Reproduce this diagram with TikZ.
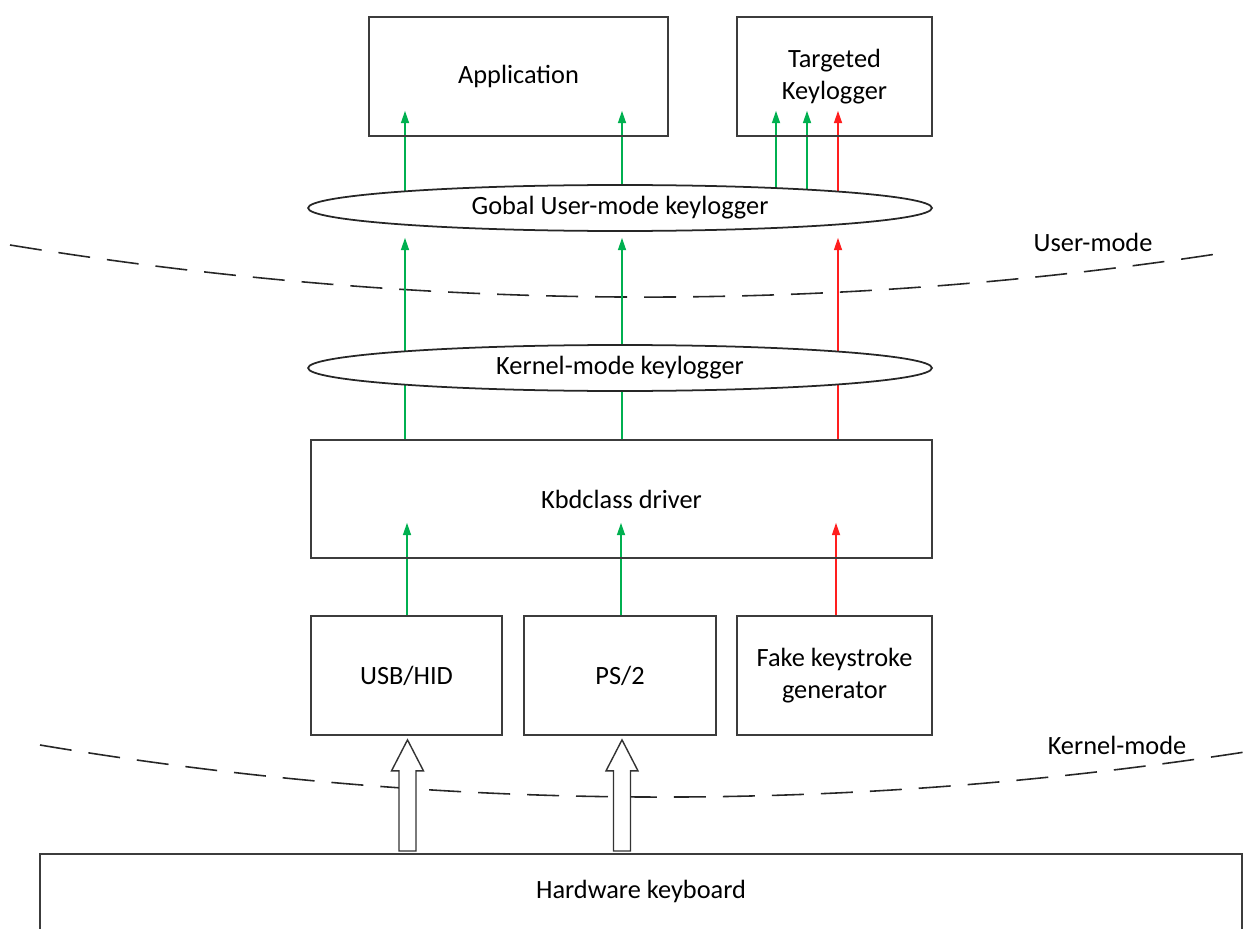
\documentclass[tikz,border=0pt]{standalone}
\usepackage{fontspec}
\setmainfont{Carlito}
\usetikzlibrary{shapes.geometric,arrows.meta,calc}
\pgfdeclarelayer{background}
\pgfsetlayers{background,main}
\definecolor{kgreen}{RGB}{0,176,80}
\definecolor{kred}{RGB}{255,30,30}
\definecolor{kline}{RGB}{60,60,60}
\begin{document}
\begin{tikzpicture}[x=0.02cm,y=-0.02cm,
  font=\fontsize{15}{18}\selectfont,
  box/.style={draw=kline,line width=1pt,inner sep=0pt,align=center},
  oval/.style={ellipse,draw=black!85,fill=white,line width=1pt,inner sep=0pt,minimum width=12.48cm,minimum height=0.92cm},
  garrow/.style={draw=kgreen,line width=0.8pt,-{Triangle[width=4.6pt,length=7pt]}},
  rarrow/.style={garrow,draw=kred},
  bound/.style={draw=black!85,line width=0.9pt,dash pattern=on 0.64cm off 0.34cm},
  hollow/.style={draw=black!80,fill=white,line width=0.8pt,line join=miter},
  lbl/.style={inner sep=0pt}]
\clip (0,0) rectangle (1247,929);

% nodes
\node[box,minimum width=5.98cm,minimum height=2.38cm] (app) at (518.5,76.5) {Application};
\node[box,minimum width=3.9cm,minimum height=2.38cm] (tk) at (834.5,76.5) {Targeted\\Keylogger};
\node[oval] (glob) at (620,208) {Gobal User-mode keylogger};
\node[oval] (kern) at (620,368) {Kernel-mode keylogger};
\node[box,minimum width=12.42cm,minimum height=2.36cm] (kbd) at (621.5,499) {Kbdclass driver};
\node[box,minimum width=3.82cm,minimum height=2.38cm] (usb) at (406.5,675.5) {USB/HID};
\node[box,minimum width=3.84cm,minimum height=2.38cm] (ps2) at (620,675.5) {PS/2};
\node[box,minimum width=3.9cm,minimum height=2.38cm] (fake) at (834.5,675.5) {Fake keystroke\\generator};
\node[box,minimum width=24.04cm,minimum height=2.4cm,anchor=north] (hw) at (641,853) {};
\node[lbl] (hwt) at (641,891) {Hardware keyboard};
\node[lbl] (um) at (1093,242) {User-mode};
\node[lbl] (km) at (1117,745) {Kernel-mode};

% columns
\coordinate (c1) at (405,0);
\coordinate (c2) at (622,0);
\coordinate (c3) at (838,0);
\coordinate (t1) at (776,0);
\coordinate (t2) at (807,0);
\coordinate (l1) at (407,0);
\coordinate (l2) at (621,0);
\coordinate (l3) at (836,0);
\coordinate (h1) at (407.5,0);
\coordinate (h2) at (622,0);

\begin{pgfonlayer}{background}
% boundaries
\draw[bound] (10,245) .. controls (419,311.7) and (823.3,314.3) .. (1223,253);
\draw[bound] (40,745) .. controls (438.3,812) and (840,814.3) .. (1245,752);
% global -> application / targeted
\draw[garrow] (glob.center -| c1) -- ($(app.south -| c1)+(0,-26)$);
\draw[garrow] (glob.center -| c2) -- ($(app.south -| c2)+(0,-26)$);
\draw[garrow] (glob.center -| t1) -- ($(tk.south -| t1)+(0,-26)$);
\draw[garrow] (glob.center -| t2) -- ($(tk.south -| t2)+(0,-26)$);
\draw[rarrow] (glob.center -| c3) -- ($(tk.south -| c3)+(0,-26)$);
% kbdclass -> global (through kernel-mode keylogger)
\draw[garrow] (kbd.north -| c1) -- ($(glob.south -| c1)+(0,6)$);
\draw[garrow] (kbd.north -| c2) -- ($(glob.south -| c2)+(0,6)$);
\draw[rarrow] (kbd.north -| c3) -- ($(glob.south -| c3)+(0,6)$);
% devices -> kbdclass
\draw[garrow] (usb.north -| l1) -- ($(kbd.south -| l1)+(0,-36)$);
\draw[garrow] (ps2.north -| l2) -- ($(kbd.south -| l2)+(0,-36)$);
\draw[rarrow] (fake.north -| l3) -- ($(kbd.south -| l3)+(0,-36)$);
\end{pgfonlayer}

% hollow arrows hardware -> USB / PS2
\draw[hollow] ($(hw.north -| h1)+(-8.5,-2)$) -- ($(usb.south -| h1)+(-8.5,35)$) -- ($(usb.south -| h1)+(-16,35)$) -- ($(usb.south -| h1)+(0,4)$) -- ($(usb.south -| h1)+(16,35)$) -- ($(usb.south -| h1)+(8.5,35)$) -- ($(hw.north -| h1)+(8.5,-2)$) -- cycle;
\draw[hollow] ($(hw.north -| h2)+(-8.5,-2)$) -- ($(ps2.south -| h2)+(-8.5,35)$) -- ($(ps2.south -| h2)+(-16,35)$) -- ($(ps2.south -| h2)+(0,4)$) -- ($(ps2.south -| h2)+(16,35)$) -- ($(ps2.south -| h2)+(8.5,35)$) -- ($(hw.north -| h2)+(8.5,-2)$) -- cycle;
\end{tikzpicture}
\end{document}
